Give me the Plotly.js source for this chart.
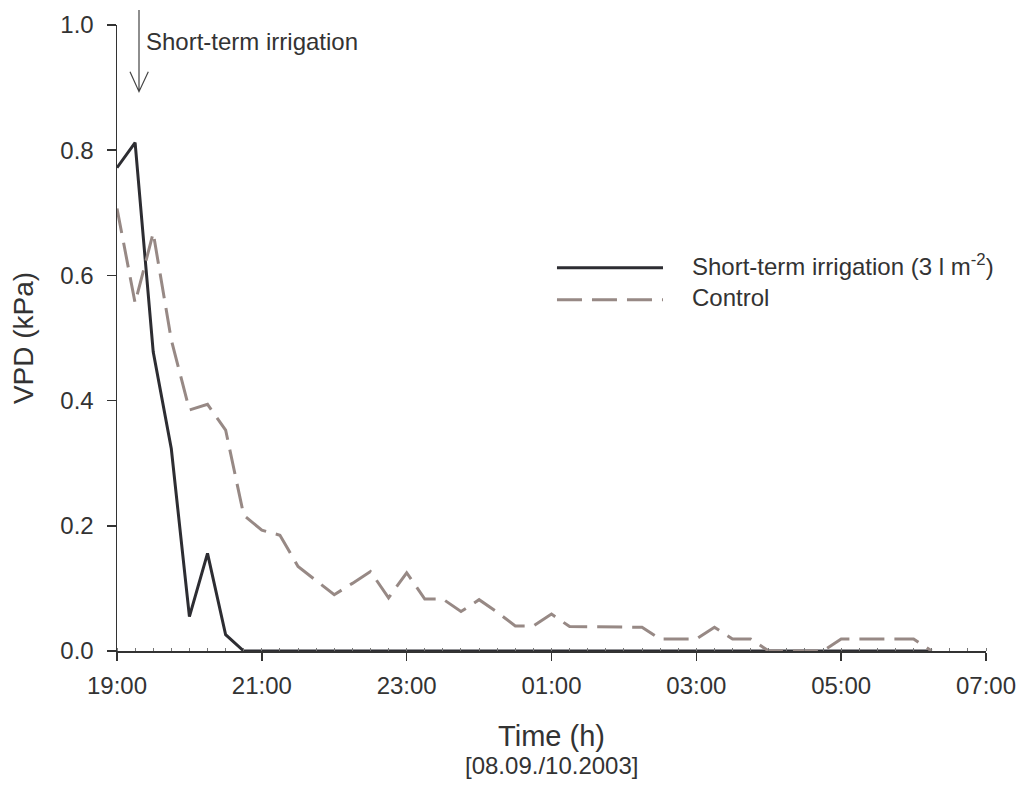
<!DOCTYPE html>
<html>
<head>
<meta charset="utf-8">
<script src="https://cdn.plot.ly/plotly-3.0.1.min.js"></script>
<style>html,body{margin:0;padding:0;background:#fff;}#chart{width:1026px;height:787px;}</style>
</head>
<body>
<div id="chart"></div>
<script>
const times = [
  '2003-10-08 19:00','2003-10-08 19:15','2003-10-08 19:30','2003-10-08 19:45',
  '2003-10-08 20:00','2003-10-08 20:15','2003-10-08 20:30','2003-10-08 20:45',
  '2003-10-08 21:00','2003-10-08 21:15','2003-10-08 21:30','2003-10-08 21:45',
  '2003-10-08 22:00','2003-10-08 22:15','2003-10-08 22:30','2003-10-08 22:45',
  '2003-10-08 23:00','2003-10-08 23:15','2003-10-08 23:30','2003-10-08 23:45',
  '2003-10-09 00:00','2003-10-09 00:15','2003-10-09 00:30','2003-10-09 00:45',
  '2003-10-09 01:00','2003-10-09 01:15','2003-10-09 01:30','2003-10-09 01:45',
  '2003-10-09 02:00','2003-10-09 02:15','2003-10-09 02:30','2003-10-09 02:45',
  '2003-10-09 03:00','2003-10-09 03:15','2003-10-09 03:30','2003-10-09 03:45',
  '2003-10-09 04:00','2003-10-09 04:15','2003-10-09 04:30','2003-10-09 04:45',
  '2003-10-09 05:00','2003-10-09 05:15','2003-10-09 05:30','2003-10-09 05:45',
  '2003-10-09 06:00','2003-10-09 06:15'
];

const irrigation = [
  0.772, 0.812, 0.478, 0.323, 0.055, 0.156, 0.026, 0,
  0, 0, 0, 0, 0, 0, 0, 0,
  0, 0, 0, 0, 0, 0, 0, 0,
  0, 0, 0, 0, 0, 0, 0, 0,
  0, 0, 0, 0, 0, 0, 0, 0,
  0, 0, 0, 0, 0, 0
];

const control = [
  0.707, 0.556, 0.668, 0.497, 0.385, 0.394, 0.353, 0.217,
  0.193, 0.185, 0.135, 0.112, 0.090, 0.108, 0.127, 0.085,
  0.125, 0.083, 0.083, 0.063, 0.082, 0.062, 0.040, 0.040,
  0.059, 0.039, 0.039, 0.039, 0.039, 0.038, 0.019, 0.019,
  0.019, 0.038, 0.019, 0.019, 0, 0, 0, 0,
  0.019, 0.019, 0.019, 0.019, 0.019, 0
];

const seriesNames = ['Short-term irrigation (3 l m<sup>-2</sup>)', 'Control'];
const xRange = ['2003-10-08 19:00', '2003-10-09 07:00'];
const yTicks = [0, 0.2, 0.4, 0.6, 0.8, 1.0];

const FONT = 'Liberation Sans, Arial, Helvetica, sans-serif';
const TXT = '#333333';
const COLORS = ['#2d2d32', '#978985'];
const DASHES = ['solid', '25px,10px'];

const traces = [
  {
    x: times, y: irrigation, name: seriesNames[0], type: 'scatter', mode: 'lines',
    line: {color: COLORS[0], width: 3, dash: DASHES[0]}
  },
  {
    x: times, y: control, name: seriesNames[1], type: 'scatter', mode: 'lines',
    line: {color: COLORS[1], width: 3, dash: DASHES[1]}
  }
];

// legend drawn manually (paper coordinates)
const legY = [0.6121, 0.5611];
const legendShapes = legY.map((yy, i) => ({
  type: 'line', xref: 'paper', yref: 'paper',
  x0: 0.5063, x1: 0.6283, y0: yy, y1: yy,
  line: {color: COLORS[i], width: 3, dash: DASHES[i]}
}));
const legendTexts = legY.map((yy, i) => ({
  text: seriesNames[i], xref: 'paper', yref: 'paper', x: 0.6594, y: yy + 0.004,
  xanchor: 'left', yanchor: 'middle', showarrow: false,
  font: {family: FONT, size: 24, color: TXT}
}));

const layout = {
  width: 1026, height: 787,
  margin: {l: 117, r: 40, t: 25, b: 136, pad: 0},
  paper_bgcolor: '#ffffff', plot_bgcolor: '#ffffff',
  font: {family: FONT, size: 24, color: TXT},
  showlegend: false,
  xaxis: {
    type: 'date', range: xRange,
    dtick: 7200000, tick0: '2003-10-08 19:00', tickformat: '%H:%M',
    ticks: 'outside', ticklen: 8, tickwidth: 1.5, tickcolor: '#333',
    ticklabelstandoff: 5,
    showline: true, linecolor: '#333', linewidth: 1.5,
    showgrid: false, zeroline: false,
    tickfont: {family: FONT, size: 24, color: TXT},
    minor: {dtick: 900000, ticks: 'inside', ticklen: 3, tickwidth: 1, tickcolor: '#777', showgrid: false},
    title: {text: 'Time (h)', font: {family: FONT, size: 29, color: TXT}, standoff: 27}
  },
  yaxis: {
    range: [0, 1], tickvals: yTicks, tickformat: '.1f',
    ticks: 'outside', ticklen: 9, tickwidth: 1.5, tickcolor: '#333',
    ticklabelstandoff: 8,
    showline: true, linecolor: '#333', linewidth: 1.5,
    showgrid: false, zeroline: false,
    tickfont: {family: FONT, size: 24, color: TXT},
    title: {text: 'VPD (kPa)', font: {family: FONT, size: 28, color: TXT}, standoff: 18}
  },
  shapes: [
    {type: 'path', xref: 'paper', yref: 'paper',
     path: 'M 0.02532,1.0239 L 0.02532,0.8935 M 0.01496,0.9255 L 0.02532,0.8935 L 0.03602,0.9255',
     line: {color: '#444', width: 1.2}}
  ].concat(legendShapes),
  annotations: [
    {text: 'Short-term irrigation', xref: 'paper', yref: 'paper', x: 0.0311, y: 0.974,
     xanchor: 'left', yanchor: 'middle', showarrow: false,
     font: {family: FONT, size: 24, color: TXT}},
    {text: '[08.09./10.2003]', xref: 'paper', yref: 'paper', x: 0.5, y: -0.183,
     xanchor: 'center', yanchor: 'middle', showarrow: false,
     font: {family: FONT, size: 24, color: TXT}}
  ].concat(legendTexts)
};

Plotly.newPlot('chart', traces, layout, {staticPlot: true, displayModeBar: false});
</script>
</body>
</html>
